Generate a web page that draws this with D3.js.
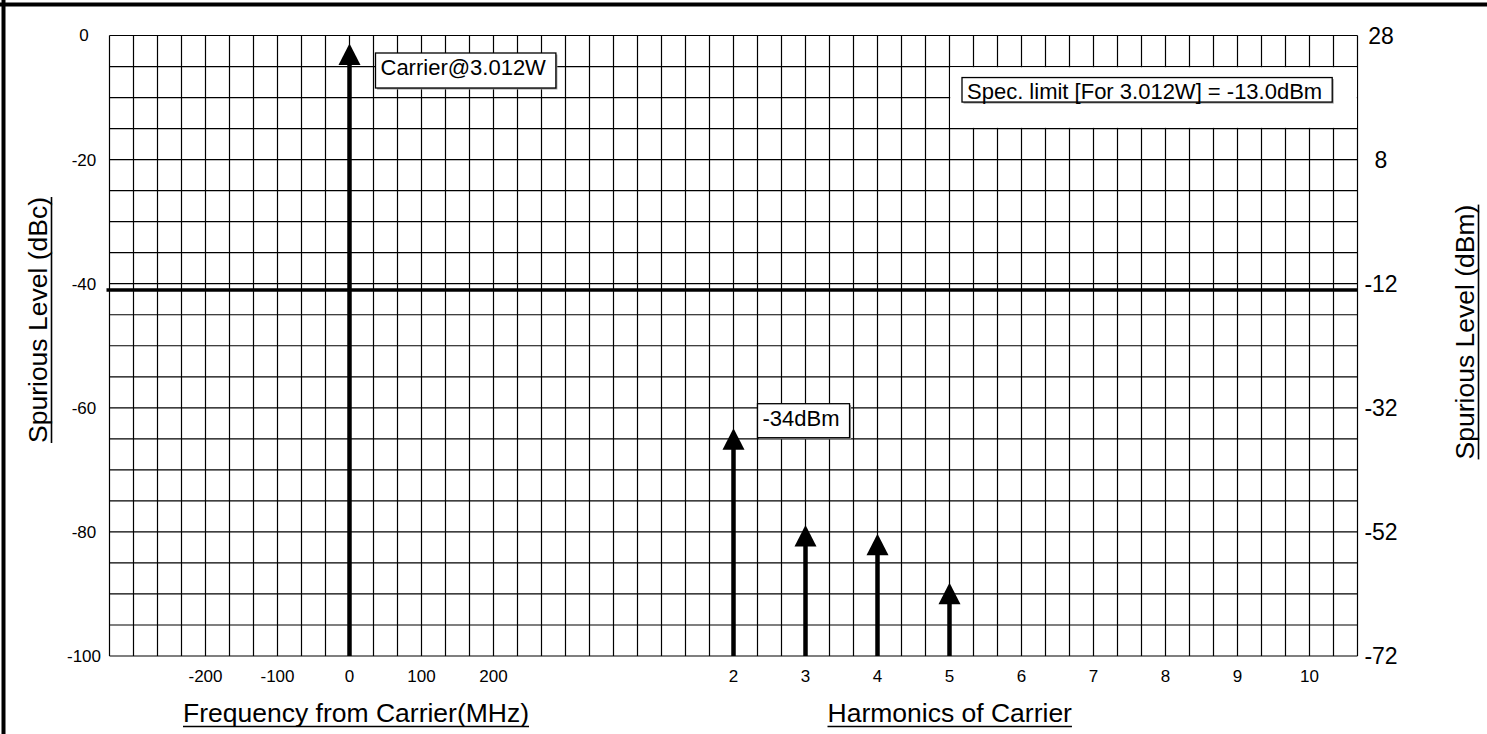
<!DOCTYPE html>
<html>
<head>
<meta charset="utf-8">
<script src="https://cdn.jsdelivr.net/npm/d3@7"></script>
<style>
  html, body { margin: 0; padding: 0; background: #fff; }
  svg { display: block; }
  text { font-family: Arial, "Liberation Sans", sans-serif; fill: #000; }
</style>
</head>
<body>
<svg id="chart" width="1487" height="734"></svg>
<script>
// ---------------- data ----------------
const leftTicks = [0, -20, -40, -60, -80, -100];          // dBc
const rightTicks = [28, 8, -12, -32, -52, -72];           // dBm
const freqTicks = [-200, -100, 0, 100, 200];              // MHz from carrier
const harmTicks = [2, 3, 4, 5, 6, 7, 8, 9, 10];           // harmonic order
const carrierFreq = [0];
const carrierLevel = [0];                                  // dBc
const harmonicOrders = [2, 3, 4, 5];
const harmonicLevels = [-62, -77.6, -79.0, -86.9];         // dBc
const specLimitDbm = -13;
const dbmOffset = 28;                                      // dBm = dBc + 28
const carrierLabel = "Carrier@3.012W";
const harmonicLabel = "-34dBm";
const specLabel = "Spec. limit [For 3.012W] = -13.0dBm";
const xTitleLeft = "Frequency from Carrier(MHz)";
const xTitleRight = "Harmonics of Carrier";
const yTitleLeft = "Spurious Level (dBc)";
const yTitleRight = "Spurious Level (dBm)";

// ---------------- layout ----------------
const svg = d3.select("#chart");
const L = 109.5, R = 1357.5, T = 35.5, B = 656;
const nCols = 52;

const col = d3.scaleLinear().domain([0, nCols]).range([L, R]);
const y = d3.scaleLinear().domain([-100, 0]).range([B, T]);
const yR = d3.scaleLinear().domain([-100 + dbmOffset, dbmOffset]).range([B, T]);
const xFreq = d3.scaleLinear().domain([-1000 / 3, 0]).range([col(0), col(10)]);
const xHarm = d3.scaleLinear().domain([2, 10]).range([col(26), col(50)]);

// outer frame
svg.append("line").attr("x1", 0).attr("x2", 1487).attr("y1", 4.5).attr("y2", 4.5)
  .attr("stroke", "#000").attr("stroke-width", 4);
svg.append("line").attr("x1", 3.5).attr("x2", 3.5).attr("y1", 0).attr("y2", 734)
  .attr("stroke", "#000").attr("stroke-width", 4);

// grid
const grid = svg.append("g");
grid.selectAll("line.v").data(d3.range(0, nCols + 1)).join("line")
  .attr("x1", d => col(d)).attr("x2", d => col(d))
  .attr("y1", T).attr("y2", B)
  .attr("stroke", "#000").attr("stroke-width", 1.2);
grid.selectAll("line.h").data(d3.range(-100, 1, 5)).join("line")
  .attr("x1", L).attr("x2", R)
  .attr("y1", d => y(d)).attr("y2", d => y(d))
  .attr("stroke", "#000").attr("stroke-width", 1.2);

// left axis labels
svg.append("g").selectAll("text").data(leftTicks).join("text")
  .attr("x", 84).attr("y", d => y(d)).attr("dy", "0.35em")
  .attr("text-anchor", "middle").attr("font-size", 17).text(d => d);

// right axis labels
svg.append("g").selectAll("text").data(rightTicks).join("text")
  .attr("x", 1381).attr("y", d => yR(d)).attr("dy", "0.35em")
  .attr("text-anchor", "middle").attr("font-size", 23).text(d => d);

// bottom tick labels
svg.append("g").selectAll("text").data(freqTicks).join("text")
  .attr("x", d => xFreq(d)).attr("y", 682)
  .attr("text-anchor", "middle").attr("font-size", 17).text(d => d);
svg.append("g").selectAll("text").data(harmTicks).join("text")
  .attr("x", d => xHarm(d)).attr("y", 682)
  .attr("text-anchor", "middle").attr("font-size", 17).text(d => d);

// spec limit line
const specDbc = specLimitDbm - dbmOffset;
svg.append("line").attr("x1", L - 3).attr("x2", R)
  .attr("y1", y(specDbc)).attr("y2", y(specDbc))
  .attr("stroke", "#000").attr("stroke-width", 3.5);

// spec label area (white background over grid, grid border lines kept)
svg.append("rect").attr("x", col(35) + 0.7).attr("y", y(-5) + 0.7)
  .attr("width", col(nCols) - col(35) - 1.4).attr("height", y(-15) - y(-5) - 1.4)
  .attr("fill", "#fff");

function labelBox(tx, ty, txt, size, padTop, padBottom) {
  const g = svg.append("g");
  const shadow = g.append("rect");
  const rect = g.append("rect");
  const t = g.append("text").attr("x", tx).attr("y", ty).attr("font-size", size).text(txt);
  const w = t.node().getComputedTextLength();
  rect.attr("x", tx - 5).attr("y", ty - padTop).attr("width", w + 15).attr("height", padTop + padBottom)
    .attr("fill", "#fff").attr("stroke", "#000").attr("stroke-width", 1.3);
  shadow.attr("x", tx - 3.5).attr("y", ty - padTop + 1.5).attr("width", w + 15).attr("height", padTop + padBottom)
    .attr("fill", "#999");
  t.raise();
}

// arrows
const tipOffset = 8, headH = 21.5, headW = 22;
function arrow(x, level) {
  const tip = y(level) + tipOffset;
  svg.append("line").attr("x1", x).attr("x2", x).attr("y1", B).attr("y2", tip + headH - 1)
    .attr("stroke", "#000").attr("stroke-width", 4.5);
  svg.append("path")
    .attr("d", `M${x},${tip} L${x - headW / 2},${tip + headH} L${x + headW / 2},${tip + headH} Z`)
    .attr("fill", "#000");
}
carrierFreq.forEach((f, i) => arrow(xFreq(f), carrierLevel[i]));
harmonicOrders.forEach((h, i) => arrow(xHarm(h), harmonicLevels[i]));

// annotation boxes
labelBox(xFreq(0) + 31, y(carrierLevel[0]) + 39.5, carrierLabel, 22, 22, 13);
labelBox(xHarm(2) + 29, y(harmonicLevels[0]) + 6, harmonicLabel, 22, 22.5, 11.5);
labelBox(col(35) + 17.5, y(-10) + 1, specLabel, 22, 21, 3.5);

// axis titles with underline
function title(x, yy, txt, size, rotate) {
  const g = svg.append("g").attr("transform", `translate(${x},${yy})${rotate ? " rotate(-90)" : ""}`);
  const t = g.append("text").attr("x", 0).attr("y", 0).attr("font-size", size)
    .attr("text-anchor", rotate ? "middle" : "start").text(txt);
  const w = t.node().getComputedTextLength();
  const x0 = rotate ? -w / 2 : 0;
  g.append("line").attr("x1", x0).attr("x2", x0 + w).attr("y1", 4.5).attr("y2", 4.5)
    .attr("stroke", "#000").attr("stroke-width", 1.6);
}
title(183, 722, xTitleLeft, 26.5, false);
title(827.5, 722, xTitleRight, 26.5, false);
title(47, 320, yTitleLeft, 26.5, true);
title(1474, 332, yTitleRight, 26.5, true);
</script>
</body>
</html>
